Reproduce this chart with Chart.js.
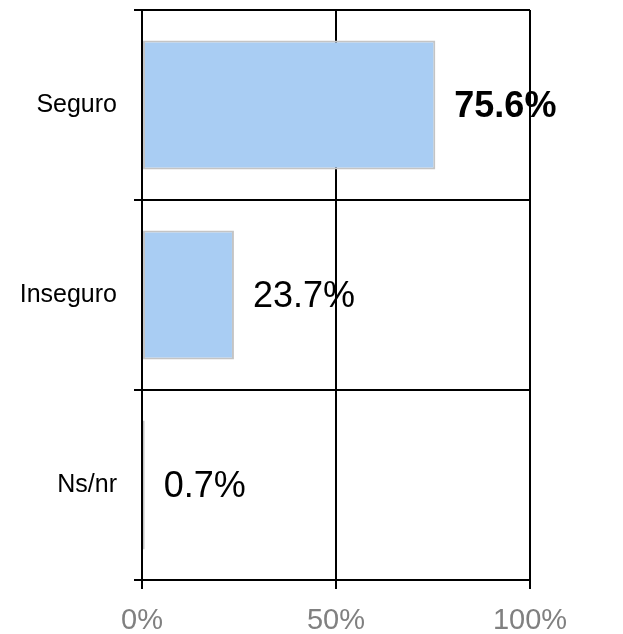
<!DOCTYPE html>
<html>
<head>
<meta charset="utf-8">
<script src="https://cdn.jsdelivr.net/npm/chart.js@4/dist/chart.umd.min.js"></script>
<style>
  html, body { margin: 0; padding: 0; background: #ffffff; }
  #wrap { width: 623px; height: 634px; }
</style>
</head>
<body>
<div id="wrap"><canvas id="c" width="623" height="634"></canvas></div>
<script>
const categories = ['Seguro', 'Inseguro', 'Ns/nr'];
const values = [75.6, 23.7, 0.7];
const xTickValues = [0, 50, 100];
const boldLabelIndex = 0;

const valueLabelPlugin = {
  id: 'valueLabels',
  afterDatasetsDraw(chart) {
    const ctx = chart.ctx;
    const meta = chart.getDatasetMeta(0);
    ctx.save();
    ctx.fillStyle = '#000000';
    ctx.textAlign = 'left';
    ctx.textBaseline = 'middle';
    meta.data.forEach((bar, i) => {
      const weight = i === boldLabelIndex ? 'bold ' : '';
      ctx.font = weight + '36px "Liberation Sans", Arial, sans-serif';
      ctx.fillText(values[i].toFixed(1) + '%', bar.x + 19, bar.y + 2);
    });
    ctx.restore();
  }
};

new Chart(document.getElementById('c'), {
  type: 'bar',
  data: {
    labels: categories,
    datasets: [{
      data: values,
      backgroundColor: '#a9cdf3',
      borderColor: '#c4c4c4',
      borderWidth: 2,
      borderSkipped: false,
      categoryPercentage: 0.68,
      barPercentage: 1.0
    }]
  },
  options: {
    indexAxis: 'y',
    responsive: false,
    animation: false,
    events: [],
    layout: { padding: { top: 10, right: 93, left: 0, bottom: 0 } },
    plugins: { legend: { display: false }, tooltip: { enabled: false } },
    scales: {
      x: {
        min: 0,
        max: 100,
        afterBuildTicks(scale) { scale.ticks = xTickValues.map(v => ({ value: v })); },
        afterFit(scale) { scale.height = 54; },
        grid: { color: '#000000', lineWidth: 2, tickLength: 9, drawTicks: true },
        border: { color: '#000000', width: 2 },
        ticks: {
          color: '#808080',
          padding: 15,
          font: { family: '"Liberation Sans", Arial, sans-serif', size: 29 },
          callback: v => v + '%'
        }
      },
      y: {
        afterFit(scale) { scale.width = 142; scale.paddingTop = 0; scale.paddingBottom = 0; },
        grid: { color: '#000000', lineWidth: 2, tickLength: 8, drawTicks: true, offset: true },
        border: { color: '#000000', width: 2 },
        ticks: {
          color: '#000000',
          padding: 17,
          font: { family: '"Liberation Sans", Arial, sans-serif', size: 25 }
        }
      }
    }
  },
  plugins: [valueLabelPlugin]
});
</script>
</body>
</html>
